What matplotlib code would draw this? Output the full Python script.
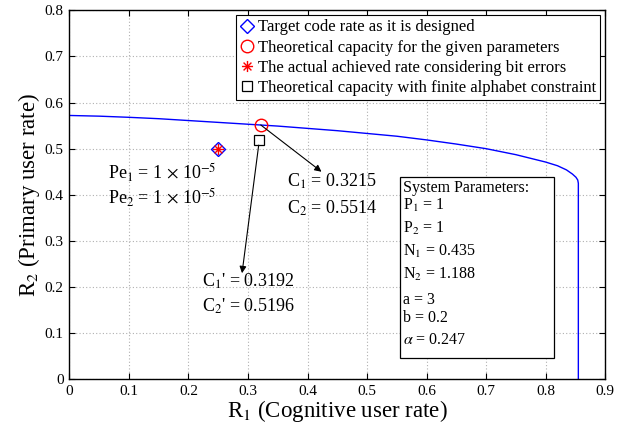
import numpy as np
import matplotlib
matplotlib.use("Agg")
import matplotlib.pyplot as plt
from matplotlib.path import Path
from matplotlib.patches import Rectangle

plt.rcParams['font.family'] = ['Liberation Serif', 'DejaVu Serif']
plt.rcParams['mathtext.fontset'] = 'stix'

# Capacity region boundary
r1_curve = [0.0, 0.05, 0.1, 0.15, 0.2, 0.25, 0.3, 0.35, 0.4, 0.45, 0.5, 0.55,
            0.6, 0.65, 0.7, 0.75, 0.8, 0.82, 0.835, 0.845, 0.851, 0.854, 0.855, 0.855]
r2_curve = [0.572, 0.5705, 0.568, 0.565, 0.561, 0.557, 0.553, 0.549, 0.544, 0.539,
            0.533, 0.527, 0.519, 0.510, 0.500, 0.487, 0.471, 0.463, 0.454, 0.445,
            0.438, 0.432, 0.425, 0.0]

target = (0.25, 0.5)
capacity = (0.3215, 0.5514)
achieved = (0.25, 0.5)
finite = (0.3192, 0.5196)

legend_labels = ['Target code rate as it is designed',
                 'Theoretical capacity for the given parameters',
                 'The actual achieved rate considering bit errors',
                 'Theoretical capacity with finite alphabet constraint']

params = [r'System Parameters:', r'P$_1$ = 1', r'P$_2$ = 1', r'N$_1$ = 0.435',
          r'N$_2$ = 1.188', r'a = 3', r'b = 0.2', r'$\alpha$ = 0.247']

xticks = [0, 0.1, 0.2, 0.3, 0.4, 0.5, 0.6, 0.7, 0.8, 0.9]
yticks = [0, 0.1, 0.2, 0.3, 0.4, 0.5, 0.6, 0.7, 0.8]

fig = plt.figure(figsize=(6.31, 4.30), dpi=100)
ax = fig.add_axes([0.110, 0.118, 0.849, 0.858])

ax.plot(r1_curve, r2_curve, color='blue', lw=1.0)

# asterisk marker (MATLAB style)
ast_verts = []
ast_codes = []
for ang in [0, 45, 90, 135]:
    a = np.deg2rad(ang)
    ast_verts += [(-np.cos(a), -np.sin(a)), (np.cos(a), np.sin(a))]
    ast_codes += [Path.MOVETO, Path.LINETO]
ast_path = Path(ast_verts, ast_codes)

h1, = ax.plot([target[0]], [target[1]], linestyle='none', marker='D', markersize=7,
              markerfacecolor='none', markeredgecolor='blue', markeredgewidth=1.0,
              label=legend_labels[0])
h2, = ax.plot([capacity[0]], [capacity[1]], linestyle='none', marker='o', markersize=9,
              markerfacecolor='none', markeredgecolor='red', markeredgewidth=1.0,
              label=legend_labels[1])
h3, = ax.plot([achieved[0]], [achieved[1]], linestyle='none', marker=ast_path, markersize=8,
              markerfacecolor='none', markeredgecolor='red', markeredgewidth=1.0,
              label=legend_labels[2])
h4, = ax.plot([finite[0]], [finite[1]], linestyle='none', marker='s', markersize=7,
              markerfacecolor='none', markeredgecolor='black', markeredgewidth=0.9,
              label=legend_labels[3])

ax.set_xlim(0, 0.9)
ax.set_ylim(0, 0.8)
ax.set_xticks(xticks)
ax.set_yticks(yticks)
ax.set_xticklabels([f'{t:g}' for t in xticks])
ax.set_yticklabels([f'{t:g}' for t in yticks])
ax.tick_params(direction='in', top=True, right=True, labelsize=11, length=4, width=0.8, pad=4)
ax.grid(True, linestyle=(0, (1, 2)), color='#b0b0b0', lw=0.8)
for s in ax.spines.values():
    s.set_linewidth(1.0)

ax.set_xlabel(r'R$_1$ (Cognitive user rate)', fontsize=16.5, labelpad=0)
ax.set_ylabel(r'R$_2$ (Primary user rate)', fontsize=16.5, labelpad=2)

leg = ax.legend(handles=[h1, h2, h3, h4], loc='upper right', fontsize=12,
                frameon=True, fancybox=False, edgecolor='black', framealpha=1,
                handlelength=0.8, handletextpad=0.25, borderpad=0.25, labelspacing=0.25,
                borderaxespad=0.3)
leg.get_frame().set_linewidth(0.8)

# annotations
ax.text(0.065, 0.447, r'Pe$_1$ = 1 $\times$ 10$^{-5}$', fontsize=13, va='center', ha='left')
ax.text(0.065, 0.393, r'Pe$_2$ = 1 $\times$ 10$^{-5}$', fontsize=13, va='center', ha='left')

ax.annotate('', xy=(0.4235, 0.450), xytext=capacity,
            arrowprops=dict(arrowstyle='-|>', color='black', lw=0.8, shrinkA=0, shrinkB=0,
                            mutation_scale=10))
ax.text(0.366, 0.429, r'C$_1$ = 0.3215', fontsize=13, va='center', ha='left')
ax.text(0.366, 0.371, r'C$_2$ = 0.5514', fontsize=13, va='center', ha='left')

ax.annotate('', xy=(0.290, 0.230), xytext=finite,
            arrowprops=dict(arrowstyle='-|>', color='black', lw=0.8, shrinkA=4, shrinkB=0,
                            mutation_scale=10))
ax.text(0.223, 0.212, r"C$_1$' = 0.3192", fontsize=13, va='center', ha='left')
ax.text(0.223, 0.158, r"C$_2$' = 0.5196", fontsize=13, va='center', ha='left')

# system parameter box
ax.add_patch(Rectangle((0.555, 0.0455), 0.2595, 0.394, transform=ax.transData,
                       facecolor='white', edgecolor='black', lw=0.9, zorder=3))
param_y = [0.4145, 0.3776, 0.328, 0.277, 0.227, 0.172, 0.132, 0.0846]
for txt, yy in zip(params, param_y):
    ax.text(0.5605, yy, txt, fontsize=11.5, va='center', ha='left', zorder=4)

fig.savefig('out.png', dpi=100)
